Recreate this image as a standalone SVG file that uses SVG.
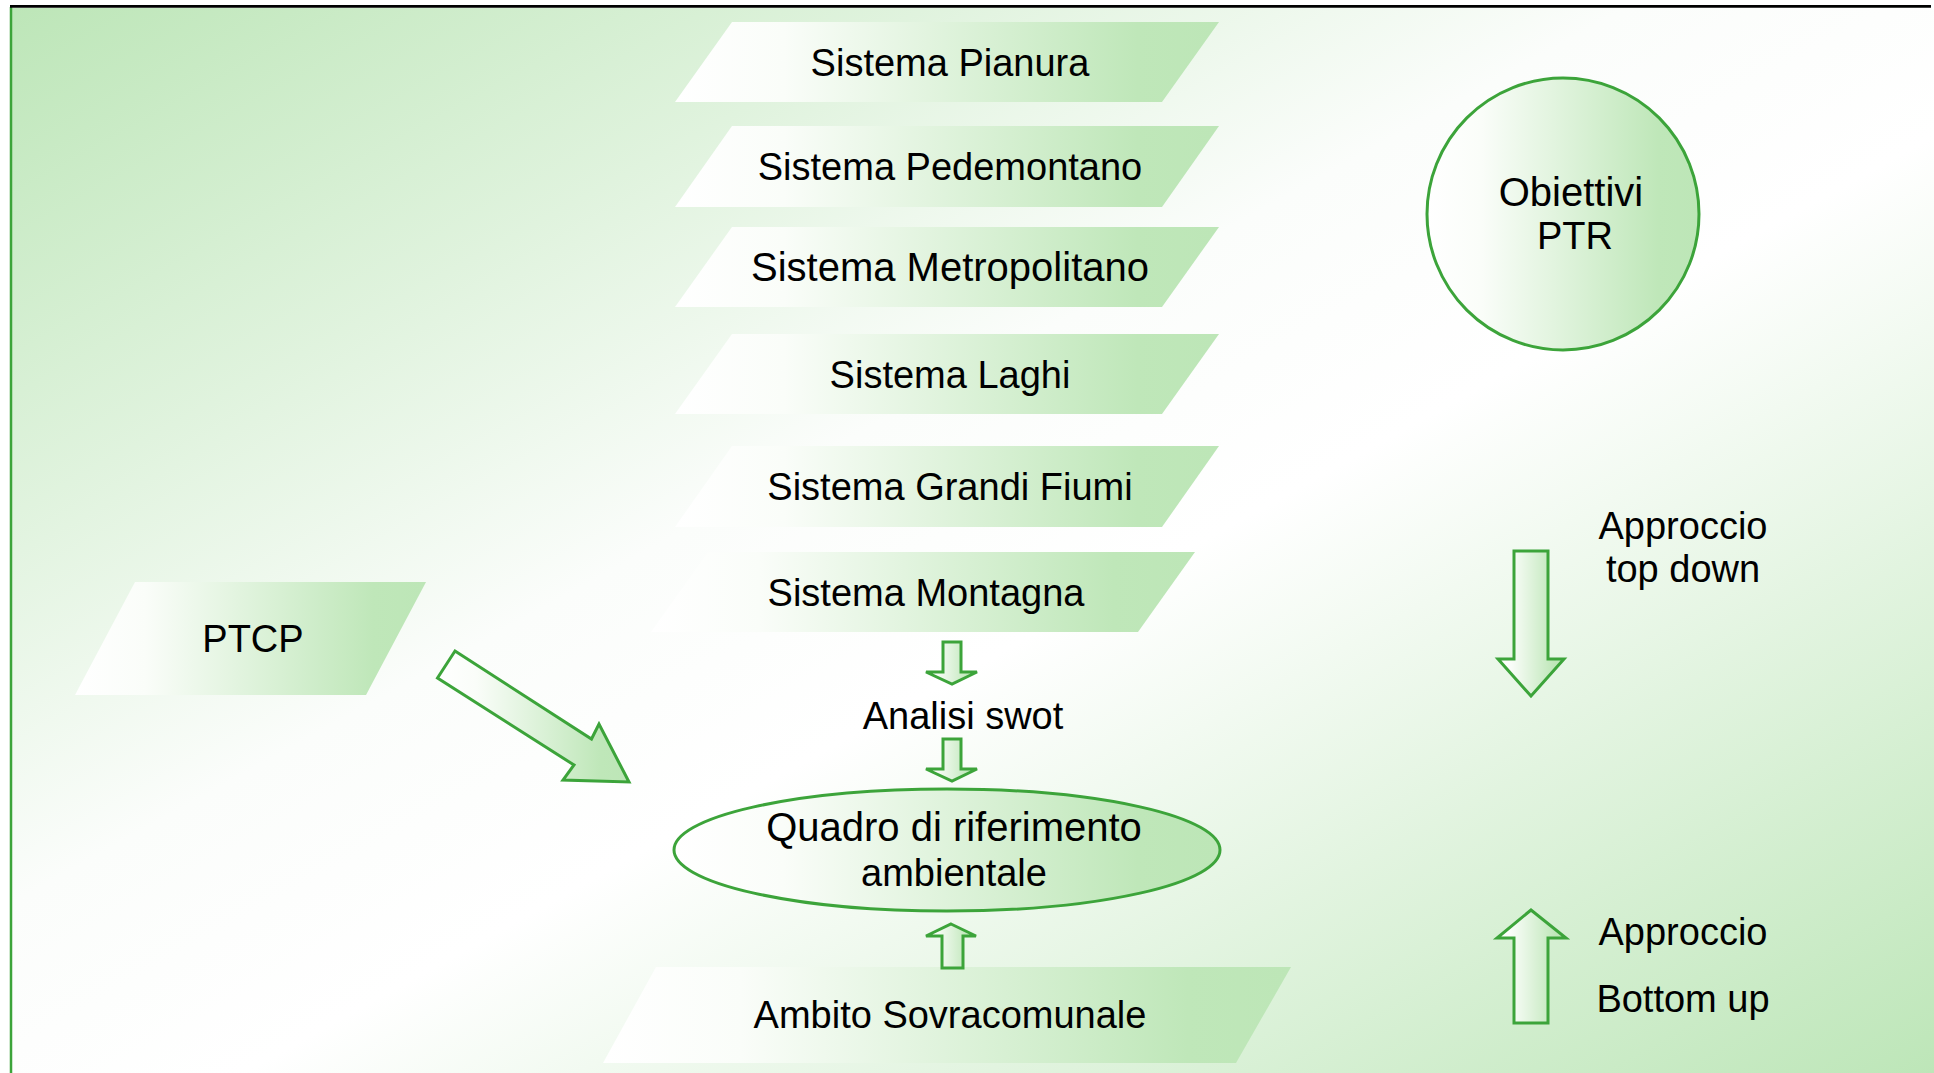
<svg xmlns="http://www.w3.org/2000/svg" width="1934" height="1073" viewBox="0 0 1934 1073">
  <defs>
    <!-- diagonal page wash: green corners top-left and bottom-right, white band across the middle -->
    <linearGradient id="bg" x1="0" y1="0" x2="1" y2="1">
      <stop offset="0" stop-color="#bde6b8"/>
      <stop offset="0.42" stop-color="#fbfdfb"/>
      <stop offset="0.56" stop-color="#ffffff"/>
      <stop offset="1" stop-color="#bde6b8"/>
    </linearGradient>
    <!-- shape fill: white on the left fading to green on the right -->
    <linearGradient id="fill" x1="0" y1="0" x2="1" y2="0">
      <stop offset="0" stop-color="#ffffff"/>
      <stop offset="0.2" stop-color="#fafdf9"/>
      <stop offset="0.85" stop-color="#bfe7b9"/>
      <stop offset="1" stop-color="#bde6b7"/>
    </linearGradient>
    <style>
      .lbl { font-family: "Liberation Sans", Arial, sans-serif; font-size: 38px; fill: #000; text-anchor: middle; }
      .wide { font-size: 40px; }
      .band { fill: url(#fill); stroke: none; }
      .outline { fill: url(#fill); stroke: #3ca43a; stroke-width: 3; stroke-linejoin: miter; }
    </style>
  </defs>

  <!-- page background and frame -->
  <rect x="0" y="0" width="1934" height="1073" fill="#ffffff"/>
  <rect x="12" y="8" width="1922" height="1065" fill="url(#bg)"/>
  <line x1="11" y1="7" x2="11" y2="1073" stroke="#3ca43a" stroke-width="2.5"/>
  <line x1="10" y1="6.3" x2="1931" y2="6.3" stroke="#000000" stroke-width="2.8"/>

  <!-- regional systems -->
  <g id="sistema-pianura">
    <polygon class="band" points="732,22 1219,22 1162,102 675,102"/>
    <text class="lbl" x="950" y="75.6">Sistema Pianura</text>
  </g>
  <g id="sistema-pedemontano">
    <polygon class="band" points="732,126 1219,126 1162,207 675,207"/>
    <text class="lbl" x="950" y="180">Sistema Pedemontano</text>
  </g>
  <g id="sistema-metropolitano">
    <polygon class="band" points="732,227 1219,227 1162,307 675,307"/>
    <text class="lbl wide" x="950" y="281">Sistema Metropolitano</text>
  </g>
  <g id="sistema-laghi">
    <polygon class="band" points="732,334 1219,334 1162,414 675,414"/>
    <text class="lbl" x="950" y="387.5">Sistema Laghi</text>
  </g>
  <g id="sistema-grandi-fiumi">
    <polygon class="band" points="732,446 1219,446 1162,527 675,527"/>
    <text class="lbl" x="950" y="500">Sistema Grandi Fiumi</text>
  </g>
  <g id="sistema-montagna">
    <polygon class="band" points="708,552 1195,552 1138,632 651,632"/>
    <text class="lbl" x="926" y="605.5">Sistema Montagna</text>
  </g>

  <g id="analisi-swot">
    <text class="lbl" x="963" y="729">Analisi swot</text>
  </g>

  <g id="quadro-riferimento">
    <ellipse class="outline" cx="947" cy="850" rx="273" ry="61"/>
    <text class="lbl wide" x="954" y="841">Quadro di riferimento</text>
    <text class="lbl" x="954" y="886">ambientale</text>
  </g>

  <g id="ambito-sovracomunale">
    <polygon class="band" points="656,967 1291,967 1236,1063 603,1063"/>
    <text class="lbl" x="950" y="1028">Ambito Sovracomunale</text>
  </g>

  <g id="ptcp">
    <polygon class="band" points="135,582 426,582 366,695 75,695"/>
    <text class="lbl" x="253" y="652">PTCP</text>
  </g>

  <g id="obiettivi-ptr">
    <circle class="outline" cx="1563" cy="214" r="136"/>
    <text class="lbl wide" x="1571" y="205.5">Obiettivi</text>
    <text class="lbl" x="1575" y="249">PTR</text>
  </g>

  <g id="approccio-top-down">
    <text class="lbl" x="1683" y="538.5">Approccio</text>
    <text class="lbl" x="1683" y="582">top down</text>
  </g>

  <g id="approccio-bottom-up">
    <text class="lbl" x="1683" y="945">Approccio</text>
    <text class="lbl" x="1683" y="1012">Bottom up</text>
  </g>

  <!-- block arrows -->
  <g id="connectors">
    <!-- Sistema Montagna to Analisi swot -->
    <path class="outline" d="M943,642 H961 V672 H977 L952,684 L926,672 H943 Z"/>
    <!-- Analisi swot to Quadro di riferimento -->
    <path class="outline" d="M943,739 H961 V769 H977 L952,781 L926,769 H943 Z"/>
    <!-- Ambito Sovracomunale up to Quadro di riferimento -->
    <path class="outline" d="M951,924 L976,936 H963 V968 H942 V936 H926 Z"/>
    <!-- PTCP to Quadro di riferimento -->
    <path class="outline" d="M455,651 L591.5,739 L599,724 L629,782 L563,780 L574,765 L437.5,678 Z"/>
    <!-- top down -->
    <path class="outline" d="M1514,551 H1548 V659 H1564 L1531,696 L1498,659 H1514 Z"/>
    <!-- bottom up -->
    <path class="outline" d="M1531,910 L1566,938 H1548 V1023 H1514 V938 H1497 Z"/>
  </g>
</svg>
